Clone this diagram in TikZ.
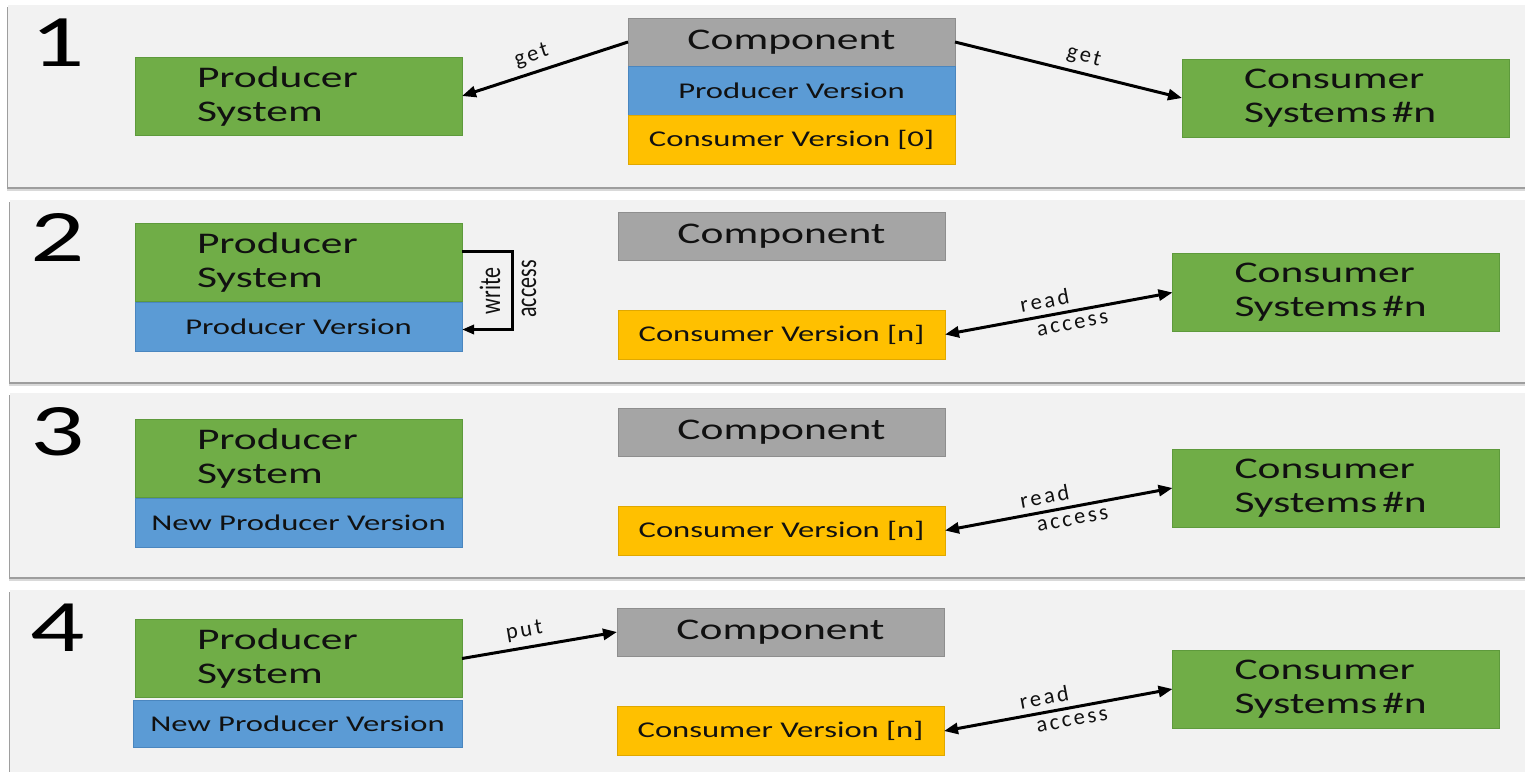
\documentclass[tikz,border=0pt]{standalone}
\usepackage{fontspec}
\setmainfont[FakeStretch=1.45]{Carlito}
\newfontfamily\plainfont{Carlito}
\newfontfamily\lblfont[LetterSpace=12]{Carlito}
\usetikzlibrary{arrows.meta,calc}
\definecolor{panelbg}{HTML}{F2F2F2}
\definecolor{grn}{HTML}{70AD47}
\definecolor{grnB}{HTML}{5E9A3C}
\definecolor{blu}{HTML}{5B9BD5}
\definecolor{bluB}{HTML}{4A86BF}
\definecolor{yel}{HTML}{FFC000}
\definecolor{yelB}{HTML}{E0A800}
\definecolor{gry}{HTML}{A5A5A5}
\definecolor{gryB}{HTML}{8E8E8E}
\definecolor{txt}{HTML}{111111}
\tikzset{
  box/.style={draw, line width=0.8pt, inner sep=0pt, outer sep=0pt, text=txt},
  sysbox/.style={box, fill=grn, draw=grnB, minimum width=327pt, minimum height=78pt,
     inner xsep=62pt, text width=203pt, align=left, font=\fontsize{30}{34}\selectfont},
  compbox/.style={box, fill=gry, draw=gryB, minimum width=327pt, minimum height=48pt,
     font=\fontsize{30}{34}\selectfont},
  verbox/.style={box, fill=blu, draw=bluB, minimum width=327pt, minimum height=49pt,
     font=\fontsize{22.5}{27}\selectfont},
  conbox/.style={box, fill=yel, draw=yelB, minimum width=327pt, minimum height=49pt,
     font=\fontsize{22.5}{27}\selectfont},
  arr/.style={line width=3pt, -{Triangle[length=14pt,width=11pt]}},
  darr/.style={line width=3pt, {Triangle[length=14pt,width=11pt]}-{Triangle[length=14pt,width=11pt]}},
  lbl/.style={font=\lblfont\fontsize{22.5}{24}\selectfont, inner sep=6pt, text=txt},
  vlbl/.style={font=\plainfont\fontsize{22}{24}\selectfont, inner sep=0pt, text=txt},
  digit/.style={font=\fontsize{74}{80}\selectfont, anchor=base west, inner sep=0pt, text=black},
  panel/.style={fill=panelbg, draw=none},
  pshadow/.style={fill=black!38, draw=none}
}
\begin{document}
\begin{tikzpicture}[x=1pt,y=-1pt]
\useasboundingbox (0,0) rectangle (1525,772);
\fill[white] (0,0) rectangle (1525,772);
% panels
\fill[black!15] (7,7) rectangle (1525,191);
\fill[pshadow] (7,7) rectangle (1525,189);
\fill[panel] (8,5) rectangle (1525,187);
\fill[black!15] (9,202) rectangle (1525,386);
\fill[pshadow] (9,202) rectangle (1525,384);
\fill[panel] (10,200) rectangle (1525,382);
\fill[black!15] (9,395) rectangle (1525,581);
\fill[pshadow] (9,395) rectangle (1525,579);
\fill[panel] (10,393) rectangle (1525,577);
\fill[pshadow] (9,592) rectangle (1525,772);
\fill[panel] (10,590) rectangle (1525,772);

% ---------- panel 1 ----------
\node[digit] (n1) at (30,66) {1};
\node[sysbox] (ps1) at (298.5,96) {Producer\\System};
\node[compbox] (c1) at (791.5,42) {Component};
\node[verbox] (pv1) at (791.5,90.5) {Producer Version};
\node[conbox] (cv1) at (791.5,139.5) {Consumer Version [0]};
\node[sysbox] (cs1) at (1345.5,98) {Consumer\\Systems\,\#n};
\draw[arr] (c1.west) -- node[lbl, pos=0.55, above, sloped] (g1) {get} (ps1.east);
\draw[arr] (c1.east) -- node[lbl, pos=0.55, above, sloped] (g2) {get} (cs1.west);

% ---------- panel 2 ----------
\node[digit] (n2) at (30,261) {2};
\node[sysbox] (ps2) at (298.5,262) {Producer\\System};
\node[verbox] (pv2) at (298.5,326.5) {Producer Version};
\node[compbox] (c2) at (781.5,236) {Component};
\node[conbox] (cv2) at (781.5,334.5) {Consumer Version [n]};
\node[sysbox] (cs2) at (1336,292.5) {Consumer\\Systems\,\#n};
\draw[line width=3pt, -{Triangle[length=12pt,width=9pt]}]
   ([yshift=11pt]ps2.east) -- ++(50,0) coordinate (wa) |- ([yshift=-3pt]pv2.east);
\node[vlbl, xscale=1.35, rotate=90] (w2) at (490,291) {write};
\node[vlbl, xscale=1.35, rotate=90] (a2) at (529,289) {access};
\draw[darr] (cv2.east) -- node[lbl, pos=0.45, above, sloped] (r2) {read}
   node[lbl, pos=0.55, below, sloped] (ra2) {access} (cs2.west);

% ---------- panel 3 ----------
\node[digit] (n3) at (30,455) {3};
\node[sysbox] (ps3) at (298.5,458) {Producer\\System};
\node[verbox] (pv3) at (298.5,522.5) {New Producer Version};
\node[compbox] (c3) at (781.5,432) {Component};
\node[conbox] (cv3) at (781.5,530.5) {Consumer Version [n]};
\node[sysbox] (cs3) at (1336,488) {Consumer\\Systems\,\#n};
\draw[darr] (cv3.east) -- node[lbl, pos=0.45, above, sloped] (r3) {read}
   node[lbl, pos=0.55, below, sloped] (ra3) {access} (cs3.west);

% ---------- panel 4 ----------
\node[digit] (n4) at (30,651) {4};
\node[sysbox] (ps4) at (298.5,658.5) {Producer\\System};
\node[verbox, minimum width=329pt, minimum height=47pt] (pv4) at (297.5,723.5) {New Producer Version};
\node[compbox] (c4) at (780.5,632) {Component};
\node[conbox] (cv4) at (780.5,731) {Consumer Version [n]};
\node[sysbox] (cs4) at (1336,689) {Consumer\\Systems\,\#n};
\draw[arr] (ps4.east) -- node[lbl, pos=0.42, above, sloped] (p4) {put} (c4.west);
\draw[darr] (cv4.east) -- node[lbl, pos=0.45, above, sloped] (r4) {read}
   node[lbl, pos=0.55, below, sloped] (ra4) {access} (cs4.west);
\end{tikzpicture}
\end{document}
